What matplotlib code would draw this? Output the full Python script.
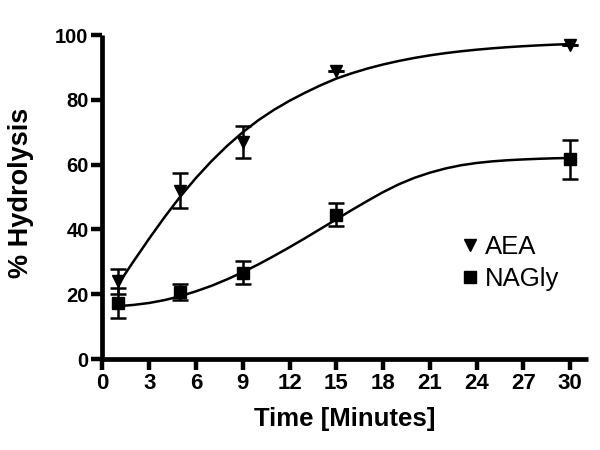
import matplotlib
matplotlib.use("Agg")
import matplotlib.pyplot as plt

# measured points
time_pts = [1, 5, 9, 15, 30]
aea_mean = [24.0, 52.0, 67.0, 89.0, 96.9]
aea_err = [3.8, 5.5, 5.0, 0.0, 0.0]
nagly_mean = [17.2, 20.7, 26.6, 44.5, 61.6]
nagly_err = [4.6, 2.5, 3.5, 3.6, 6.0]

# fitted curves at every minute
curve_t = list(range(1, 31))
aea_curve = [23.0, 30.2, 37.2, 43.9, 50.2, 55.9, 61.1, 65.8, 70.0, 73.7,
             76.9, 79.7, 82.2, 84.5, 86.55, 88.2, 89.65, 90.9, 91.98, 92.92,
             93.72, 94.4, 94.98, 95.47, 95.89, 96.25, 96.55, 96.81, 97.03, 97.2]
nagly_curve = [16.3, 16.7, 17.3, 18.2, 19.4, 20.9, 22.6, 24.6, 26.8, 29.2,
               31.8, 34.5, 37.3, 40.2, 43.1, 46.0, 48.8, 51.5, 53.9, 55.9,
               57.5, 58.8, 59.8, 60.5, 61.0, 61.35, 61.6, 61.8, 61.95, 62.05]

xticks = list(range(0, 31, 3))
yticks = [0, 20, 40, 60, 80, 100]

plt.rcParams['font.family'] = ['Liberation Sans', 'DejaVu Sans']

fig = plt.figure(figsize=(6, 4.5), dpi=100)
ax = fig.add_axes([0.1708, 0.2022, 0.8092, 0.72])

ax.plot(curve_t, aea_curve, color='black', lw=1.8)
ax.plot(curve_t, nagly_curve, color='black', lw=1.8)

ax.errorbar(time_pts, aea_mean, yerr=aea_err, fmt='none', ecolor='black',
            elinewidth=1.8, capsize=5.5, capthick=1.8)
ax.errorbar(time_pts, nagly_mean, yerr=nagly_err, fmt='none', ecolor='black',
            elinewidth=1.8, capsize=5.5, capthick=1.8)
ax.plot(time_pts, aea_mean, 'v', color='black', ms=9, label='AEA')
ax.plot(time_pts, nagly_mean, 's', color='black', ms=8.5, label='NAGly')

ax.set_xlim(0, 31.15)
ax.set_ylim(0, 100)
ax.set_xticks(xticks)
ax.set_yticks(yticks)

for s in ['top', 'right']:
    ax.spines[s].set_visible(False)
for s in ['left', 'bottom']:
    ax.spines[s].set_linewidth(3.4)
    ax.spines[s].set_capstyle('butt')
ax.tick_params(width=3.2, length=8, direction='out')
ax.tick_params(axis='x', labelsize=16, pad=2)
ax.tick_params(axis='y', labelsize=14.5, pad=2)
for lab in ax.get_xticklabels() + ax.get_yticklabels():
    lab.set_fontweight('bold')

ax.set_xlabel('Time [Minutes]', fontsize=18.5, fontweight='bold')
ax.set_ylabel('% Hydrolysis', fontsize=19.5, fontweight='bold')
ax.xaxis.set_label_coords(0.5, -0.148)
ax.yaxis.set_label_coords(-0.141, 0.514)

ax.legend(loc='upper left', bbox_to_anchor=(0.7136, 0.421), frameon=False,
          fontsize=18.5, handlelength=0.6, handletextpad=0.3, labelspacing=0.3,
          borderpad=0)

fig.savefig('out.png', dpi=100)
